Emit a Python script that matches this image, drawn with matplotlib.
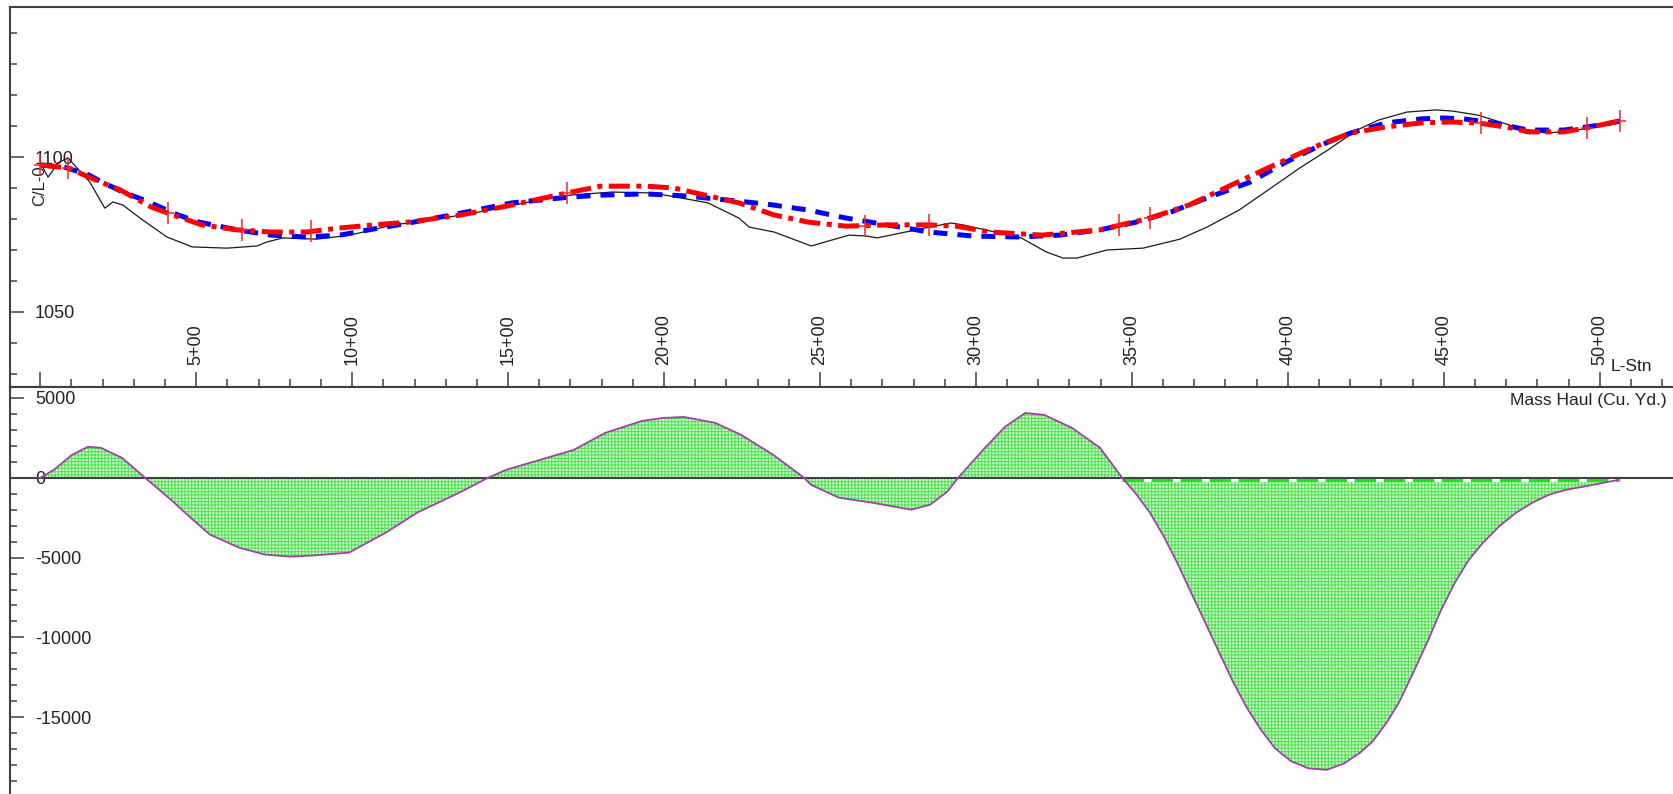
import numpy as np
import matplotlib.pyplot as plt
from matplotlib.ticker import MultipleLocator, FuncFormatter

plt.rcParams['font.family'] = ['Liberation Sans', 'DejaVu Sans']
plt.rcParams['axes.unicode_minus'] = False
plt.rcParams['hatch.linewidth'] = 0.8

# existing ground along the centreline (station ft, elevation ft)
eg_sta = [0, 25, 57, 89, 159, 207, 233, 265, 320, 406, 487, 599, 695, 727, 778, 887, 993,
          1128, 1291, 1445, 1567, 1699, 1833, 1964, 2054, 2141, 2240, 2273, 2353, 2472,
          2593, 2651, 2683, 2837, 2920, 2959, 3145, 3225, 3279, 3324, 3398, 3420, 3536,
          3654, 3741, 3844, 3946, 4039, 4129, 4222, 4290, 4382, 4476, 4530, 4610, 4681,
          4739, 4828, 4909, 5001, 5065]
eg_elev = [1098.1, 1093.5, 1098.1, 1099.7, 1091.9, 1083.5, 1085.5, 1084.5, 1080.3, 1074.2,
           1071.0, 1070.6, 1071.3, 1072.6, 1073.9, 1073.5, 1074.8, 1078.0, 1080.3, 1082.9,
           1085.5, 1087.7, 1088.7, 1088.4, 1086.8, 1085.2, 1080.3, 1077.4, 1075.8, 1071.3,
           1074.8, 1074.5, 1073.9, 1077.1, 1078.7, 1078.1, 1073.9, 1069.4, 1067.4, 1067.4,
           1069.4, 1070.0, 1070.6, 1073.5, 1077.4, 1082.9, 1090.0, 1096.5, 1102.3, 1108.7,
           1111.9, 1114.5, 1115.2, 1114.8, 1113.5, 1111.3, 1109.4, 1107.7, 1108.4, 1110.0,
           1111.6]

# proposed profile 1 (blue dashed)
p1_sta = [0, 76, 156, 198, 265, 333, 442, 509, 631, 740, 852, 961, 1070, 1182, 1349, 1512,
          1699, 1798, 1942, 2074, 2164, 2263, 2330, 2462, 2584, 2715, 2850, 2991, 3135,
          3267, 3398, 3514, 3626, 3741, 3879, 3995, 4107, 4200, 4315, 4427, 4498, 4565,
          4658, 4771, 4886, 5001, 5065]
p1_elev = [1097.4, 1096.8, 1094.2, 1091.9, 1088.7, 1086.1, 1081.3, 1079.0, 1076.5, 1074.8,
           1074.2, 1074.8, 1076.8, 1078.7, 1081.9, 1085.2, 1087.1, 1087.7, 1088.1, 1087.4,
           1086.5, 1085.5, 1084.8, 1082.9, 1080.3, 1078.1, 1075.8, 1074.5, 1074.2, 1074.8,
           1076.5, 1079.0, 1082.3, 1086.8, 1091.9, 1098.4, 1103.9, 1107.7, 1111.0, 1112.3,
           1112.6, 1112.3, 1111.0, 1108.7, 1108.7, 1110.3, 1111.6]

# proposed profile 2 (red dash-dot)
p2_sta = [0, 89, 156, 256, 355, 409, 518, 631, 740, 852, 961, 1070, 1182, 1349, 1512, 1689,
          1798, 1942, 2032, 2132, 2240, 2353, 2462, 2584, 2715, 2850, 2936, 3045, 3212,
          3398, 3558, 3683, 3799, 3937, 4084, 4200, 4315, 4427, 4520, 4610, 4716, 4771,
          4886, 4957, 5065]
p2_elev = [1097.4, 1096.5, 1093.5, 1089.4, 1083.9, 1081.9, 1078.1, 1076.5, 1075.8, 1075.8,
           1077.1, 1078.1, 1079.0, 1081.3, 1084.5, 1088.4, 1090.6, 1090.6, 1090.0, 1087.7,
           1085.2, 1081.3, 1079.0, 1077.7, 1078.1, 1078.1, 1077.7, 1075.8, 1074.8, 1076.5,
           1080.3, 1084.5, 1090.0, 1096.5, 1103.2, 1107.7, 1109.7, 1111.0, 1111.3, 1111.0,
           1109.4, 1108.1, 1108.1, 1109.4, 1111.6]

# vertical points of intersection on profile 2
pvi_sta = [0, 89, 409, 647, 868, 1689, 2644, 2850, 3459, 3558, 4620, 4960, 5065]

# cumulative mass haul (cu. yd.)
mh_sta = [0, 44, 102, 153, 195, 262, 336, 419, 471, 544, 637, 720, 801, 871, 990, 1108,
          1208, 1343, 1436, 1494, 1711, 1811, 1929, 1997, 2064, 2164, 2247, 2350, 2449,
          2471, 2561, 2667, 2792, 2853, 2908, 2943, 3023, 3093, 3158, 3219, 3308, 3398,
          3469, 3513, 3558, 3603, 3645, 3690, 3735, 3780, 3825, 3870, 3914, 3959, 4010,
          4065, 4125, 4180, 4230, 4270, 4315, 4357, 4400, 4447, 4490, 4536, 4580, 4626,
          4680, 4732, 4785, 4838, 4890, 4947, 5062]
mh_vol = [0, 500, 1440, 1940, 1875, 1250, 0, -1375, -2310, -3560, -4375, -4810, -4940,
          -4875, -4690, -3440, -2190, -940, 0, 500, 1750, 2810, 3560, 3750, 3810, 3440,
          2690, 1440, 0, -440, -1250, -1560, -2000, -1690, -875, 0, 1750, 3190, 4060, 3940,
          3125, 1875, 0, -1000, -2190, -3700, -5310, -7200, -9060, -10950, -12810, -14450,
          -15800, -16950, -17750, -18200, -18300, -17900, -17250, -16560, -15400, -14060,
          -12300, -10310, -8350, -6560, -5150, -4060, -3000, -2190, -1550, -1060, -760,
          -560, -125]
balance_line = -150

mh_sta = np.array(mh_sta)
mh_vol = np.array(mh_vol)

axis_col = '#404040'
text_col = '#222222'
W, H = 1673, 794
fig = plt.figure(figsize=(W / 100, H / 100), dpi=100)
ax1 = fig.add_axes([10 / W, 1 - 387 / H, 1 - 10 / W, 380 / H])
ax2 = fig.add_axes([10 / W, 0, 1 - 10 / W, 407 / H], sharex=ax1)

# --- profile ---
ax1.plot(eg_sta, eg_elev, color='#1a1a1a', lw=0.9, zorder=2)
ax1.plot(p1_sta, p1_elev, color='#0000ff', lw=3.6, dashes=(2.8, 2.0), zorder=3)
ax1.plot(p2_sta, p2_elev, color='#ff0000', lw=3.6, dashes=(4.2, 1.3, 1.0, 1.3), zorder=4)
pvi_elev = np.interp(pvi_sta, p2_sta, p2_elev)
ax1.plot(pvi_sta, pvi_elev, ls='none', marker='|', ms=16, mew=1.1, color='#ff2020', zorder=5)
ax1.plot(pvi_sta, pvi_elev, ls='none', marker='_', ms=9, mew=1.1, color='#ff2020', zorder=5)

ax1.set_xlim(-97, 5235)
ax1.set_ylim(1025.8, 1148.4)

ax1.xaxis.set_major_locator(MultipleLocator(500))
ax1.xaxis.set_minor_locator(MultipleLocator(100))
ax1.xaxis.set_major_formatter(FuncFormatter(lambda v, p: f"{int(round(v)) // 100}+00" if v > 0 else ""))
ax1.yaxis.set_major_locator(MultipleLocator(50))
ax1.yaxis.set_minor_locator(MultipleLocator(10))

ax1.tick_params(axis='x', which='major', direction='in', length=11, width=1.1, color=axis_col,
                pad=-15.5, labelsize=13, labelcolor=text_col, labelrotation=90)
ax1.tick_params(axis='x', which='minor', direction='in', length=5.5, width=1.1, color=axis_col)
ax1.tick_params(axis='y', which='major', direction='in', length=10, width=1.1, color=axis_col,
                pad=-18, labelsize=13, labelcolor=text_col)
ax1.tick_params(axis='y', which='minor', direction='in', length=5, width=1.1, color=axis_col)
plt.setp(ax1.get_xticklabels(), va='bottom', ha='center')
plt.setp(ax1.get_yticklabels(), ha='left')

ax1.text(0.018, 0.53, "C/L-0", rotation=90, ha='center', va='center', fontsize=12,
         color=text_col, transform=ax1.transAxes)
ax1.text(0.9874, 0.055, "L-Stn", ha='right', va='center', fontsize=12.5,
         color=text_col, transform=ax1.transAxes)

# --- mass haul ---
ax2.fill_between(mh_sta, mh_vol, 0, facecolor='#d6fbd6', edgecolor='#4ee44e', hatch='+++++',
                 linewidth=0, zorder=1)
ax2.axhline(0, color=axis_col, lw=1.5, zorder=2)
end_cut = np.where(mh_vol == 0)[0][-1]
ax2.plot(mh_sta[[end_cut, -1]], [balance_line] * 2, color='white', lw=2.2, zorder=3)
ax2.plot(mh_sta[[end_cut, -1]], [balance_line] * 2, color='#22dd22', lw=2.2,
         dashes=(7, 2.5), zorder=3)
ax2.plot(mh_sta, mh_vol, color='#a040a8', lw=1.3, zorder=4)

ax2.set_ylim(-19812, 5687)
ax2.yaxis.set_major_locator(MultipleLocator(5000))
ax2.yaxis.set_minor_locator(MultipleLocator(1000))
ax2.yaxis.set_major_formatter(FuncFormatter(lambda v, p: f"{int(round(v))}"))
ax2.tick_params(axis='y', which='major', direction='in', length=10, width=1.1, color=axis_col,
                pad=-18, labelsize=13, labelcolor=text_col)
ax2.tick_params(axis='y', which='minor', direction='in', length=5, width=1.1, color=axis_col)
ax2.tick_params(axis='x', which='both', bottom=False, labelbottom=False)
plt.setp(ax2.get_yticklabels(), ha='left')

ax2.text(0.9964, 0.968, "Mass Haul (Cu. Yd.)", ha='right', va='center', fontsize=12.5,
         color=text_col, transform=ax2.transAxes)

for ax in (ax1, ax2):
    ax.spines['right'].set_visible(False)
    for s in ('left', 'top', 'bottom'):
        ax.spines[s].set_color(axis_col)
        ax.spines[s].set_linewidth(1.5)
ax2.spines['bottom'].set_visible(False)

fig.savefig('out.png', dpi=100, facecolor='white')
